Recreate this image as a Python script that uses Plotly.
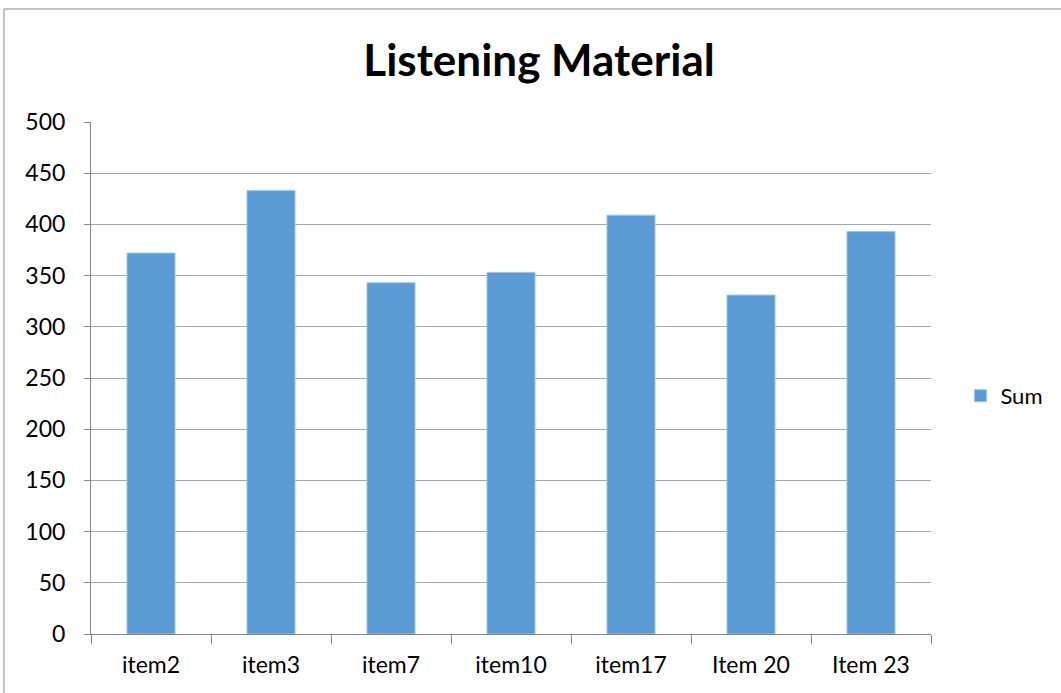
import plotly.graph_objects as go

categories = ["item2", "item3", "item7", "item10", "item17", "Item 20", "Item 23"]
sums = [372, 433, 343, 353, 409, 331, 393]
y_ticks = [0, 50, 100, 150, 200, 250, 300, 350, 400, 450, 500]

FONT = "Lato"
fig = go.Figure()
fig.add_trace(go.Bar(x=categories, y=sums, name="Sum",
                     marker=dict(color="#5b9bd5", line=dict(color="#9dc3e6", width=1))))

fig.update_layout(
    width=1061, height=693,
    margin=dict(l=91, r=130, t=122, b=59),
    paper_bgcolor="white", plot_bgcolor="white",
    bargap=0.6,
    showlegend=True,
    font=dict(family=FONT, size=23, color="black"),
    title=dict(text="<b>Listening Material</b>", x=0.508, xanchor="center",
               y=0.913, yanchor="middle", font=dict(family=FONT, size=44, color="black")),
    legend=dict(x=1.035, xanchor="left", y=0.465, yanchor="middle",
                font=dict(family=FONT, size=22), itemwidth=30),
    xaxis=dict(showline=True, linecolor="#868686", linewidth=1,
               ticks="outside", tickson="boundaries", ticklen=9, tickcolor="#868686",
               showgrid=False, ticklabelstandoff=10),
    yaxis=dict(range=[0, 500], tickvals=y_ticks, showline=True, linecolor="#868686",
               ticks="outside", ticklen=6, tickcolor="#868686",
               gridcolor="#a6a6a6", gridwidth=1, ticklabelstandoff=14),
)
fig.add_shape(type="rect", xref="paper", yref="paper",
              x0=-0.1036, x1=1.2, y0=-0.2, y1=1.2207,
              line=dict(color="#868686", width=1), fillcolor="rgba(0,0,0,0)", layer="below")
fig.write_html("out.html")
